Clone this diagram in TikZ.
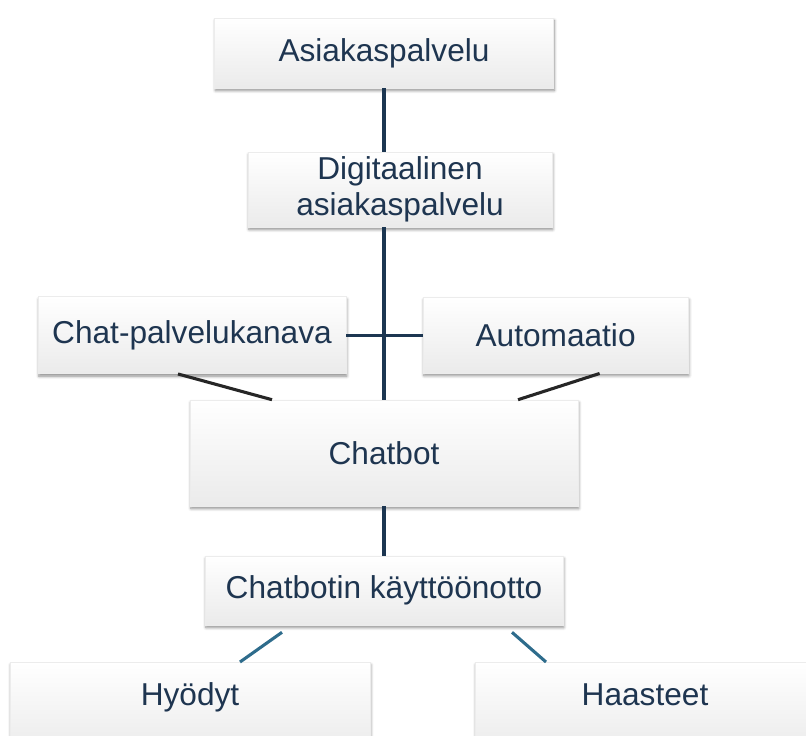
\documentclass[tikz,border=0pt]{standalone}
\usepackage{fontspec}
\setmainfont{Liberation Sans}
\usetikzlibrary{positioning,shadows,shadows.blur}
\definecolor{tekstisini}{HTML}{1E3550}
\definecolor{viivasini}{HTML}{1C3651}
\definecolor{turkoosi}{HTML}{2E6C8C}

\begin{document}
\begin{tikzpicture}[%
    kortti/.style={rectangle, draw=gray!15, top color=white, bottom color=gray!16,
        blur shadow={shadow xshift=0.6pt, shadow yshift=-1.8pt, shadow blur radius=2pt,
            shadow blur steps=6, shadow opacity=45},
        text=tekstisini, font=\fontsize{22.5}{25.6}\selectfont, align=center,
        inner sep=0pt},
    runko/.style={draw=viivasini, line width=2.2pt},
    sivu/.style={draw=black!85, line width=2.2pt},
    alas/.style={draw=turkoosi, line width=2.2pt},
    on grid
    ]
    \clip (0,0) rectangle (20.15,-18.4);

    \node[kortti, minimum width=8.475cm, minimum height=1.75cm] (asiak) at (9.6,-1.325) {Asiakaspalvelu};
    \node[kortti, minimum width=7.6cm, minimum height=1.875cm] (digi) [below right=3.4125cm and 0.4cm of asiak] {Digitaalinen\\asiakaspalvelu};
    \node[kortti, minimum width=7.7cm, minimum height=1.925cm] (chatp) at (4.8,-8.38) {Chat-palvelukanava};
    \node[kortti, minimum width=6.625cm, minimum height=1.9cm] (auto) at (13.89,-8.38) {Automaatio};
    \node[kortti, minimum width=9.7cm, minimum height=2.65cm] (chatbot) [below=10cm of asiak] {Chatbot};
    \node[kortti, minimum width=8.95cm, minimum height=1.725cm] (kaytto) [below=3.4375cm of chatbot] {Chatbotin käyttöönotto};
    \node[kortti, minimum width=9cm, inner ysep=0.5cm, text height=0.575cm, text depth=0.7cm,
        anchor=north] (hyodyt) at (4.75,-16.55) {Hyödyt};
    \node[kortti, minimum width=8.5cm, inner ysep=0.5cm, text height=0.575cm, text depth=0.7cm,
        anchor=north] (haasteet) at (16.125,-16.55) {Haasteet};

    \draw[runko] (asiak.south) -- (digi.north -| asiak.south);
    \draw[runko] (digi.south -| chatbot.north) -- (chatbot.north);
    \draw[runko] (chatp.east) -- (auto.west);
    \draw[sivu] ([xshift=-0.35cm]chatp.south) -- ([xshift=-2.8cm]chatbot.north);
    \draw[sivu] ([xshift=1.1cm]auto.south) -- ([xshift=3.35cm]chatbot.north);
    \draw[runko] (chatbot.south) -- (kaytto.north);
    \draw[alas] ([xshift=-2.55cm, yshift=-0.175cm]kaytto.south) -- ([xshift=1.25cm]hyodyt.north);
    \draw[alas] ([xshift=3.2cm, yshift=-0.175cm]kaytto.south) -- ([xshift=-2.475cm]haasteet.north);
\end{tikzpicture}
\end{document}
